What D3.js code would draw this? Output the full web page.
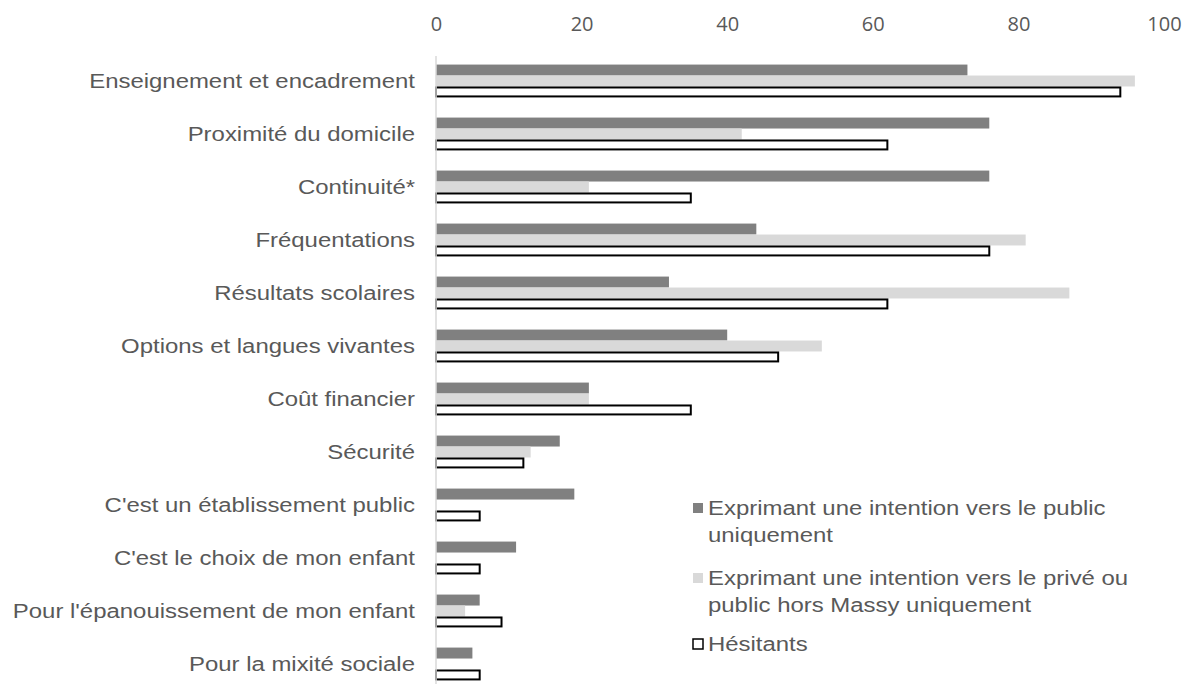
<!DOCTYPE html>
<html>
<head>
<meta charset="utf-8">
<script src="https://cdn.jsdelivr.net/npm/d3@7"></script>
<style>
  body { margin: 0; background: #fff; }
  svg text { font-family: "Liberation Sans", Arial, sans-serif; fill: #595959; }
</style>
</head>
<body>
<svg id="chart" width="1183" height="684"></svg>
<script>
// data
var categories = [
  "Enseignement et encadrement",
  "Proximité du domicile",
  "Continuité*",
  "Fréquentations",
  "Résultats scolaires",
  "Options et langues vivantes",
  "Coût financier",
  "Sécurité",
  "C'est un établissement public",
  "C'est le choix de mon enfant",
  "Pour l'épanouissement de mon enfant",
  "Pour la mixité sociale"
];
var publicValues = [73, 76, 76, 44, 32, 40, 21, 17, 19, 11, 6, 5];
var priveValues = [96, 42, 21, 81, 87, 53, 21, 13, 0, 0, 4, 0];
var hesitantValues = [94, 62, 35, 76, 62, 47, 35, 12, 6, 6, 9, 6];
var seriesNames = [
  ["Exprimant une intention vers le public", "uniquement"],
  ["Exprimant une intention vers le privé ou", "public hors Massy uniquement"],
  ["Hésitants"]
];
var xTicks = [0, 20, 40, 60, 80, 100];

var stretch = "scale(1.14,1)"; // text in the picture is a bit wider than normal

var series = [
  { key: "public", values: publicValues, fill: "#808080", stroke: "none" },
  { key: "prive", values: priveValues, fill: "#d9d9d9", stroke: "none" },
  { key: "hesitant", values: hesitantValues, fill: "#ffffff", stroke: "#000000" }
];

var svg = d3.select("#chart");

var x = d3.scaleLinear().domain([0, 100]).range([436, 1164]);

var y = d3.scaleBand()
  .domain(categories)
  .range([54.5, 690.5])
  .paddingInner(0.38)
  .paddingOuter(0.19);

var ySub = d3.scaleBand()
  .domain(series.map(d => d.key))
  .range([0, y.bandwidth()]);

// top axis, labels only
var axis = svg.append("g")
  .attr("transform", "translate(0,24)")
  .call(d3.axisTop(x).tickValues(xTicks).tickSize(0).tickPadding(0));
axis.select(".domain").remove();
axis.selectAll("text")
  .attr("dy", "0.35em")
  .attr("y", 0)
  .style("font-family", "'Open Sans', sans-serif")
  .style("font-size", "20px")
  .style("fill", "#595959");

// bars
series.forEach(function(s){
  svg.append("g").selectAll("rect")
    .data(categories.map((c, i) => ({ cat: c, value: s.values[i] })))
    .enter()
    .filter(d => d.value > 0)
    .append("rect")
    .attr("x", x(0))
    .attr("y", d => y(d.cat) + ySub(s.key) + (s.stroke === "none" ? 0 : 1))
    .attr("width", d => x(d.value) - x(0))
    .attr("height", ySub.bandwidth() - (s.stroke === "none" ? 0 : 2))
    .attr("fill", s.fill)
    .attr("stroke", s.stroke)
    .attr("stroke-width", s.stroke === "none" ? 0 : 2);
});

// vertical axis line
svg.append("line")
  .attr("x1", x(0)).attr("x2", x(0))
  .attr("y1", 56).attr("y2", 684)
  .attr("stroke", "#d9d9d9")
  .attr("stroke-width", 1.5);

// category labels
svg.append("g").selectAll("text")
  .data(categories)
  .enter()
  .append("text")
  .attr("transform", d => "translate(415," + (y(d) + y.bandwidth() / 2) + ") " + stretch)
  .attr("text-anchor", "end")
  .attr("dy", "0.35em")
  .style("font-size", "21px")
  .text(d => d);

// legend
var legendRows = [
  { s: series[0], lines: seriesNames[0], top: 508 },
  { s: series[1], lines: seriesNames[1], top: 578 },
  { s: series[2], lines: seriesNames[2], top: 644 }
];
var legend = svg.append("g");
legendRows.forEach(function(r){
  legend.append("rect")
    .attr("x", 693)
    .attr("y", r.top - 5)
    .attr("width", 10)
    .attr("height", 10)
    .attr("fill", r.s.fill)
    .attr("stroke", r.s.stroke)
    .attr("stroke-width", r.s.stroke === "none" ? 0 : 1.5);
  r.lines.forEach(function(line, j){
    legend.append("text")
      .attr("transform", "translate(708," + (r.top + j * 27) + ") " + stretch)
      .attr("dy", "0.35em")
      .style("font-size", "21px")
      .text(line);
  });
});
</script>
</body>
</html>
